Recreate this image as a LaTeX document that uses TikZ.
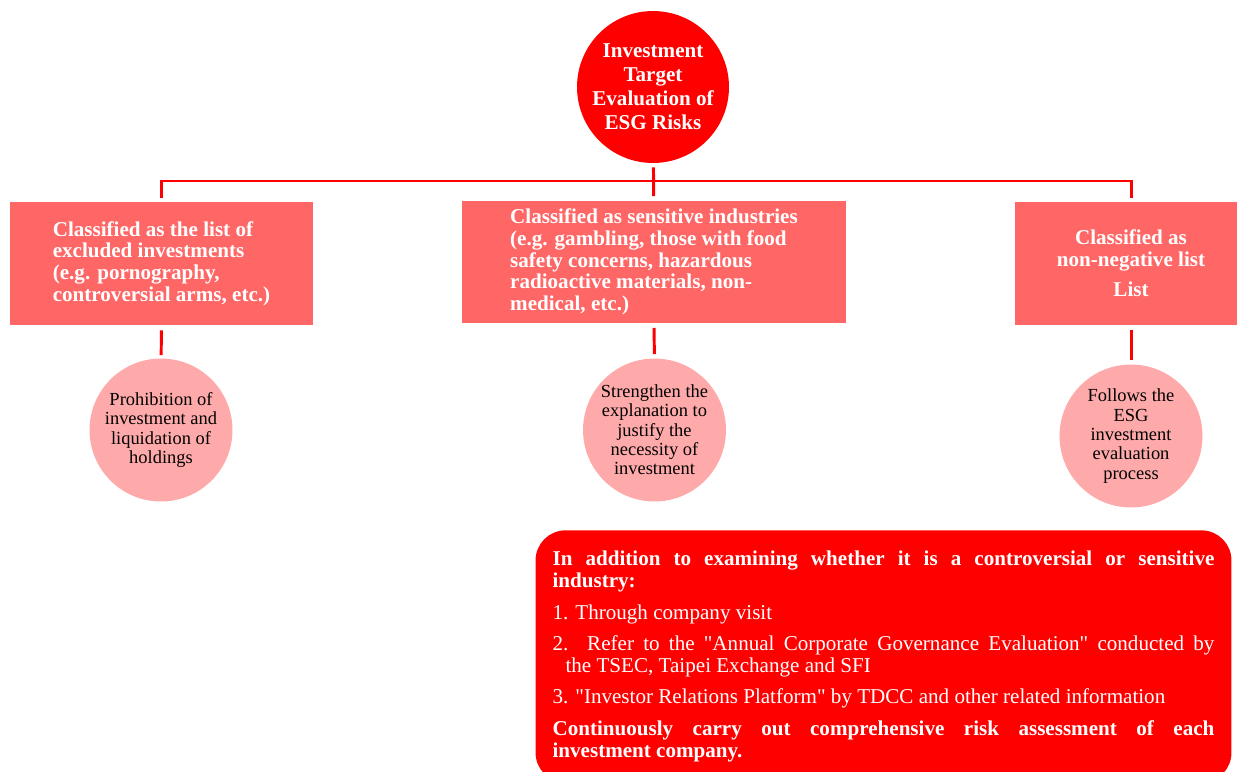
\documentclass[tikz,border=0pt]{standalone}
\usepackage{fontspec}
\setmainfont{Liberation Serif}[Ligatures=TeXOff]
\definecolor{esgred}{RGB}{255,0,0}
\definecolor{boxred}{RGB}{255,102,102}
\definecolor{pinkc}{RGB}{255,170,170}

\begin{document}
\begin{tikzpicture}[x=0.02cm,y=-0.02cm,
		link/.style={draw=esgred,line width=1.7pt},
		box/.style={fill=boxred,text=white,align=left,minimum height=2.46cm,font=\fontsize{12}{12.3}\selectfont\bfseries},
		res/.style={circle,fill=pinkc,minimum size=2.86cm,inner sep=0pt,align=center,font=\fontsize{10.5}{11}\selectfont}]
		\useasboundingbox (0,0) rectangle (1237,771);
		\clip (0,0) rectangle (1237,771);
		\node[circle,fill=esgred,text=white,minimum size=3.04cm,inner sep=0pt,align=center,font=\fontsize{12}{13.6}\selectfont\bfseries] (0) at (653,87) {Investment\\Target\\Evaluation of\\ESG Risks};
		\node[box,minimum width=6.06cm] (1) at (161.5,263.5) {Classified as the list of\\excluded investments\\(e.g. pornography,\\controversial arms, etc.)};
		\node[box,minimum width=7.68cm] (2) at (654,262) {Classified as sensitive industries\\(e.g. gambling, those with food\\safety concerns, hazardous\\radioactive materials, non-\\medical, etc.)};
		\node[box,minimum width=4.64cm,align=center] (3) at (1131,263.5) {Classified as\\non-negative list\\[5pt]List};
		\node[res] (4) at (161,430) {Prohibition of\\investment and\\liquidation of\\holdings};
		\node[res] (5) at (654.5,430) {Strengthen the\\explanation to\\justify the\\necessity of\\investment};
		\node[res] (6) at (1131,436) {Follows the\\ESG\\investment\\evaluation\\process};
		\coordinate (j) at (653,181);
		\draw[link,shorten <=2.3pt,shorten >=2.3pt] (0) -- (2);
		\draw[link,shorten <=2.3pt,shorten >=2.3pt] (1.north) |- (j) -| (3.north);
		\draw[link,shorten <=2.8pt,shorten >=1.7pt] (1) -- (4);
		\draw[link,shorten <=2.3pt,shorten >=2.3pt] (2) -- (5);
		\draw[link,shorten <=2.8pt,shorten >=2.3pt] (3) -- (6);
		\node[fill=esgred,text=white,rounded corners=0.6cm,anchor=north,text width=13.24cm,inner xsep=0.34cm,inner ysep=0.42cm,align=justify,font=\fontsize{12}{12.4}\selectfont] (7) at (883.5,530) {\parindent=0pt\parskip=5.5pt
			\textbf{In addition to examining whether it is a controversial or sensitive\linebreak industry:}\par
			1. Through company visit\par
			\hangindent=7.4pt\hangafter=1 2. Refer to the "Annual Corporate Governance Evaluation" conducted by\linebreak the TSEC, Taipei Exchange and SFI\par
			3. "Investor Relations Platform" by TDCC and other related information\par
			\textbf{Continuously carry out comprehensive risk assessment of each\linebreak investment company.}\par};
	\end{tikzpicture}
\end{document}
